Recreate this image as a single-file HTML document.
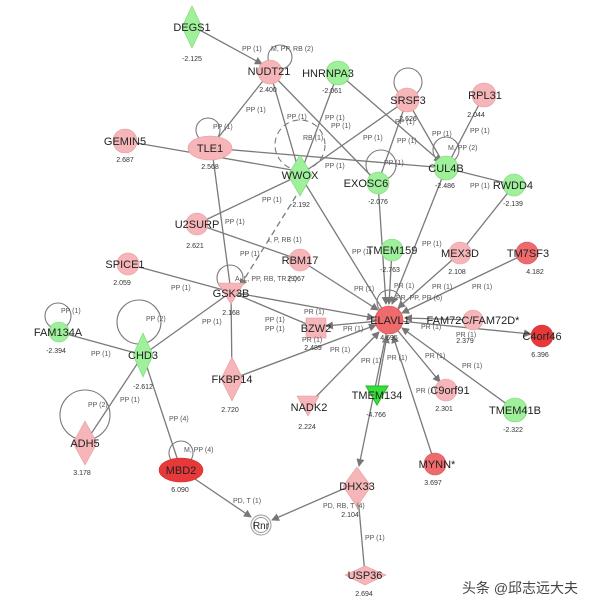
<!DOCTYPE html>
<html><head><meta charset="utf-8"><style>
html,body{margin:0;padding:0;background:#fff}
svg{display:block}
text{font-family:"Liberation Sans",Arial,sans-serif}
.l{font-size:11px;fill:#222;text-anchor:middle}
.v{font-size:7px;fill:#333;text-anchor:middle}
.e{font-size:7px;fill:#555}
line,path.ed{stroke:#7a7a7a;stroke-width:1.3;fill:none}
.lp{stroke:#7a7a7a;stroke-width:1.1;fill:none}
.p{fill:#f6b5b8;stroke:#e59ca0;stroke-width:.6}
.r{fill:#e8393a;stroke:#d02a2a;stroke-width:.6}
.r2{fill:#ef6a6c;stroke:#d84a4c;stroke-width:.6}
.g{fill:#9ef09a;stroke:#7ad477;stroke-width:.6}
.g2{fill:#36e03a;stroke:#22b826}
</style></head><body>
<svg width="600" height="609" viewBox="0 0 600 609" xmlns="http://www.w3.org/2000/svg">
<defs><marker id="a" markerWidth="8" markerHeight="8" refX="7" refY="4" orient="auto" markerUnits="userSpaceOnUse"><path d="M0,0 L8,4 L0,8 z" fill="#777"/></marker></defs>
<g>
<line x1="196" y1="28" x2="262" y2="64" marker-end="url(#a)"/>
<line x1="270" y1="72" x2="210" y2="148"/>
<line x1="270" y1="72" x2="300" y2="175"/>
<line x1="270" y1="72" x2="378" y2="183"/>
<line x1="338" y1="73" x2="300" y2="175"/>
<line x1="338" y1="73" x2="441" y2="162" marker-end="url(#a)"/>
<line x1="407" y1="100" x2="300" y2="175"/>
<line x1="407" y1="100" x2="378" y2="183"/>
<line x1="407" y1="100" x2="446" y2="168"/>
<line x1="484" y1="95" x2="446" y2="168"/>
<line x1="125" y1="141" x2="292" y2="170"/>
<line x1="210" y1="148" x2="446" y2="168"/>
<line x1="212" y1="150" x2="231" y2="292"/>
<line x1="446" y1="168" x2="514" y2="185"/>
<line x1="197" y1="224" x2="300" y2="175"/>
<line x1="197" y1="224" x2="300" y2="260"/>
<line x1="300" y1="175" x2="389" y2="320"/>
<path class="ed" d="M296,196 L240,286" stroke-dasharray="6,4" marker-end="url(#a)"/>
<line x1="128" y1="264" x2="231" y2="292"/>
<line x1="378" y1="183" x2="386" y2="304" marker-end="url(#a)"/>
<line x1="446" y1="168" x2="392" y2="304" marker-end="url(#a)"/>
<line x1="514" y1="185" x2="460" y2="253"/>
<line x1="392" y1="250" x2="389" y2="304" marker-end="url(#a)"/>
<line x1="300" y1="260" x2="378" y2="310" marker-end="url(#a)"/>
<line x1="460" y1="253" x2="398" y2="308" marker-end="url(#a)"/>
<line x1="527" y1="253" x2="402" y2="313" marker-end="url(#a)"/>
<line x1="231" y1="292" x2="374" y2="318" marker-end="url(#a)"/>
<line x1="231" y1="292" x2="316" y2="328"/>
<line x1="231" y1="292" x2="143" y2="355"/>
<line x1="231" y1="292" x2="232" y2="379"/>
<line x1="389" y1="320" x2="326" y2="326" marker-end="url(#a)"/>
<line x1="232" y1="379" x2="376" y2="325" marker-end="url(#a)"/>
<line x1="473" y1="320" x2="405" y2="318" marker-end="url(#a)"/>
<line x1="389" y1="320" x2="531" y2="334" marker-end="url(#a)"/>
<line x1="389" y1="320" x2="440" y2="382" marker-end="url(#a)"/>
<line x1="515" y1="410" x2="402" y2="328" marker-end="url(#a)"/>
<line x1="435" y1="464" x2="393" y2="336" marker-end="url(#a)"/>
<line x1="377" y1="392" x2="387" y2="336" marker-end="url(#a)"/>
<line x1="308" y1="405" x2="379" y2="332" marker-end="url(#a)"/>
<line x1="389" y1="320" x2="359" y2="466" marker-end="url(#a)"/>
<line x1="59" y1="332" x2="143" y2="355"/>
<line x1="143" y1="355" x2="85" y2="443"/>
<line x1="143" y1="355" x2="181" y2="470"/>
<line x1="195" y1="479" x2="251" y2="517" marker-end="url(#a)"/>
<line x1="350" y1="486" x2="272" y2="520" marker-end="url(#a)"/>
<line x1="365" y1="575" x2="357" y2="486"/>
</g>
<!-- loops -->
<circle class="lp" cx="280" cy="57" r="12"/>
<circle class="lp" cx="208" cy="130" r="12"/>
<circle class="lp" cx="300" cy="145" r="25" stroke-dasharray="6,4"/>
<circle class="lp" cx="408" cy="82" r="14"/>
<circle class="lp" cx="381" cy="165" r="15"/>
<circle class="lp" cx="446" cy="150" r="13"/>
<circle class="lp" cx="230" cy="278" r="13"/>
<circle class="lp" cx="389" cy="302" r="12"/>
<circle class="lp" cx="58" cy="316" r="13"/>
<circle class="lp" cx="139" cy="322" r="22"/>
<circle class="lp" cx="85" cy="415" r="25"/>
<circle class="lp" cx="181" cy="453" r="12"/>
<!-- nodes -->
<polygon class="g" points="192,6 202,27 192,48 182,27"/>
<circle class="p" cx="270" cy="72" r="12"/>
<circle class="g" cx="338" cy="73" r="12"/>
<circle class="p" cx="407" cy="100" r="12"/>
<circle class="p" cx="484" cy="95" r="12"/>
<circle class="p" cx="125" cy="141" r="12"/>
<ellipse class="p" cx="210" cy="148" rx="22" ry="12"/>
<polygon class="g" points="300,155 312,175 300,196 288,175"/>
<circle class="g" cx="378" cy="183" r="11"/>
<circle class="g" cx="446" cy="168" r="12"/>
<circle class="g" cx="514" cy="185" r="11"/>
<circle class="p" cx="197" cy="224" r="11"/>
<circle class="p" cx="128" cy="264" r="11"/>
<circle class="p" cx="300" cy="260" r="11"/>
<circle class="g" cx="392" cy="250" r="11"/>
<circle class="p" cx="460" cy="253" r="11"/>
<circle class="r2" cx="527" cy="253" r="11"/>
<polygon class="p" points="218,283 244,283 231,304"/>
<circle class="r2" cx="389" cy="320" r="14"/>
<rect class="p" x="306" y="318" width="20" height="20"/>
<circle class="p" cx="473" cy="320" r="10"/>
<circle class="r" cx="542" cy="336" r="11"/>
<circle class="g" cx="59" cy="332" r="10"/>
<polygon class="g" points="143,333 153,355 143,377 133,355"/>
<polygon class="p" points="232,357 243,379 232,401 221,379"/>
<polygon class="p" points="297,396 319,396 308,416"/>
<polygon class="g2" points="366,386 388,386 377,405"/>
<circle class="p" cx="446" cy="390" r="11"/>
<circle class="g" cx="515" cy="410" r="12"/>
<polygon class="p" points="85,421 97,443 85,465 73,443"/>
<circle class="r2" cx="435" cy="464" r="11"/>
<ellipse class="r" cx="181" cy="470" rx="22" ry="12"/>
<polygon class="p" points="357,467 371,486 357,507 343,486"/>
<circle cx="261" cy="525" r="10" fill="#fff" stroke="#999"/>
<circle cx="261" cy="525" r="7.5" fill="#fff" stroke="#999"/>
<polygon class="p" points="345,575 365,566 386,575 365,585"/>
<!-- labels -->
<text class="l" x="192" y="31">DEGS1</text><text class="v" x="192" y="61">-2.125</text>
<text class="l" x="269" y="75">NUDT21</text><text class="v" x="268" y="92">2.400</text>
<text class="l" x="328" y="77">HNRNPA3</text><text class="v" x="332" y="93">-2.061</text>
<text class="l" x="408" y="104">SRSF3</text><text class="v" x="408" y="121">2.626</text>
<text class="l" x="485" y="99">RPL31</text><text class="v" x="476" y="117">2.044</text>
<text class="l" x="125" y="145">GEMIN5</text><text class="v" x="125" y="162">2.687</text>
<text class="l" x="210" y="152">TLE1</text><text class="v" x="210" y="169">2.568</text>
<text class="l" x="300" y="179">WWOX</text><text class="v" x="300" y="207">-2.192</text>
<text class="l" x="366" y="187">EXOSC6</text><text class="v" x="378" y="204">-2.076</text>
<text class="l" x="446" y="172">CUL4B</text><text class="v" x="445" y="188">-2.486</text>
<text class="l" x="513" y="189">RWDD4</text><text class="v" x="513" y="206">-2.139</text>
<text class="l" x="197" y="228">U2SURP</text><text class="v" x="195" y="248">2.621</text>
<text class="l" x="125" y="268">SPICE1</text><text class="v" x="122" y="285">2.059</text>
<text class="l" x="300" y="264">RBM17</text><text class="v" x="296" y="281">2.067</text>
<text class="l" x="392" y="254">TMEM159</text><text class="v" x="390" y="272">-2.763</text>
<text class="l" x="460" y="257">MEX3D</text><text class="v" x="457" y="274">2.108</text>
<text class="l" x="528" y="257">TM7SF3</text><text class="v" x="535" y="274">4.182</text>
<text class="l" x="231" y="297">GSK3B</text><text class="v" x="231" y="315">2.168</text>
<text class="l" x="390" y="324">ELAVL1</text><text class="v" x="389" y="340">4.695</text>
<text class="l" x="316" y="332">BZW2</text><text class="v" x="313" y="350">2.489</text>
<text class="l" x="473" y="324">FAM72C/FAM72D*</text><text class="v" x="465" y="343">2.379</text>
<text class="l" x="542" y="340">C4orf46</text><text class="v" x="540" y="357">6.396</text>
<text class="l" x="58" y="336">FAM134A</text><text class="v" x="56" y="353">-2.394</text>
<text class="l" x="143" y="359">CHD3</text><text class="v" x="143" y="389">-2.612</text>
<text class="l" x="232" y="383">FKBP14</text><text class="v" x="230" y="412">2.720</text>
<text class="l" x="309" y="411">NADK2</text><text class="v" x="307" y="429">2.224</text>
<text class="l" x="377" y="399">TMEM134</text><text class="v" x="376" y="417">-4.766</text>
<text class="l" x="450" y="394">C9orf91</text><text class="v" x="444" y="411">2.301</text>
<text class="l" x="515" y="414">TMEM41B</text><text class="v" x="513" y="432">-2.322</text>
<text class="l" x="85" y="447">ADH5</text><text class="v" x="82" y="475">3.178</text>
<text class="l" x="437" y="468">MYNN*</text><text class="v" x="433" y="485">3.697</text>
<text class="l" x="181" y="474">MBD2</text><text class="v" x="180" y="492">6.090</text>
<text class="l" x="357" y="490">DHX33</text><text class="v" x="350" y="517">2.104</text>
<text class="l" x="261" y="529" style="font-size:10px">Rnr</text>
<text class="l" x="365" y="579">USP36</text><text class="v" x="364" y="596">2.694</text>
<!-- edge labels -->
<g class="e">
<text x="242" y="51">PP (1)</text><text x="271" y="51">M, PP, RB (2)</text>
<text x="246" y="112">PP (1)</text><text x="213" y="129">PP (1)</text>
<text x="287" y="119">PP (1)</text><text x="325" y="120">PP (1)</text><text x="331" y="128">PP (1)</text>
<text x="303" y="140">RB (1)</text><text x="363" y="140">PP (1)</text><text x="397" y="143">PP (1)</text>
<text x="395" y="124">PP (1)</text><text x="432" y="136">PP (1)</text><text x="470" y="133">PP (1)</text>
<text x="448" y="150">M, PP (2)</text><text x="384" y="165">PP (1)</text><text x="325" y="168">PP (1)</text>
<text x="470" y="188">PP (1)</text><text x="262" y="202">PP (1)</text><text x="225" y="224">PP (1)</text>
<text x="268" y="242">I, P, RB (1)</text><text x="240" y="256">PP (1)</text><text x="235" y="281">A, L, PP, RB, TR (9)</text>
<text x="352" y="254">PP (1)</text><text x="422" y="246">PP (1)</text>
<text x="171" y="290">PP (1)</text><text x="354" y="291">PR (1)</text><text x="394" y="288">PR (1)</text>
<text x="432" y="289">PR (1)</text><text x="472" y="289">PR (1)</text><text x="396" y="300">PR, PP, PR (6)</text>
<text x="202" y="324">PP (1)</text><text x="265" y="322">PP (1)</text><text x="304" y="314">PR (1)</text>
<text x="265" y="331">PP (1)</text><text x="343" y="331">PR (1)</text><text x="421" y="329">PR (1)</text>
<text x="302" y="342">PR (1)</text><text x="330" y="352">PR (1)</text><text x="456" y="337">PR (1)</text>
<text x="361" y="363">PR (1)</text><text x="387" y="360">PR (1)</text><text x="425" y="358">PR (1)</text><text x="462" y="368">PR (1)</text>
<text x="416" y="393">PR (1)</text>
<text x="61" y="313">PP (1)</text><text x="146" y="321">PP (2)</text><text x="91" y="356">PP (1)</text>
<text x="120" y="402">PP (1)</text><text x="88" y="407">PP (2)</text><text x="169" y="421">PP (4)</text>
<text x="184" y="452">M, PP (4)</text><text x="233" y="503">PD, T (1)</text><text x="323" y="508">PD, RB, T (4)</text>
<text x="365" y="540">PP (1)</text>
</g>
<text x="520" y="593" style="font-size:14px;fill:#444;text-anchor:middle;font-family:'Liberation Sans','Noto Sans CJK SC',sans-serif">头条 @邱志远大夫</text>
</svg>
</body></html>
